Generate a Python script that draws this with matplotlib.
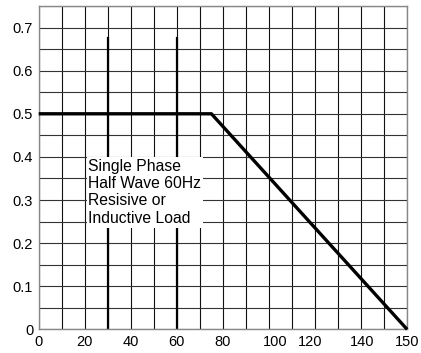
import numpy as np
import matplotlib.pyplot as plt

# tick labels on the x axis and where they sit on the grid (grid columns of 10)
x_labels = [0, 20, 40, 60, 80, 100, 120, 140, 150]
x_label_pos = [0, 20, 40, 60, 80, 102.7, 118, 140.6, 160]

# derating curve (x in label units, y in output)
curve_x = [0, 75, 150]
curve_y = [0.5, 0.5, 0.0]

y_ticks = [0, 0.1, 0.2, 0.3, 0.4, 0.5, 0.6, 0.7]
y_tick_labels = ["0", "0.1", "0.2", "0.3", "0.4", "0.5", "0.6", "0.7"]

marker_x = [30, 60]
marker_top = 0.676

note = "Single Phase\nHalf Wave 60Hz\nResisive or\nInductive Load"

plt.rcParams["font.family"] = ["Liberation Sans", "DejaVu Sans"]


def to_grid(x):
    return np.interp(x, x_labels, x_label_pos)


fig = plt.figure(figsize=(4.21, 3.53), dpi=100)
ax = fig.add_axes([0.092, 0.067, 0.875, 0.916])

ax.set_xlim(0, 160)
ax.set_ylim(0, 0.75)

for gx in np.arange(0, 161, 10):
    ax.axvline(gx, color="#111111", lw=0.8, zorder=1)
for gy in np.arange(0, 0.751, 0.05):
    ax.axhline(gy, color="#333333", lw=0.8, zorder=1)

for mx in marker_x:
    ax.plot([mx, mx], [0, marker_top], color="black", lw=1.6, zorder=2)

ax.text(21.6, 0.396, note, ha="left", va="top", fontsize=11.3,
        linespacing=1.2, zorder=3,
        bbox=dict(facecolor="white", edgecolor="none", pad=1.2))

ax.plot(to_grid(curve_x), curve_y, color="black", lw=2.4,
        solid_capstyle="butt", zorder=4, clip_on=False)

ax.set_xticks(x_label_pos)
ax.set_xticklabels([str(v) for v in x_labels])
ax.set_yticks(y_ticks)
ax.set_yticklabels(y_tick_labels)
ax.tick_params(length=0, labelsize=10.5, pad=4)

for s in ax.spines.values():
    s.set_color("#888888")
    s.set_linewidth(1.0)

fig.savefig("out.png", dpi=100)
